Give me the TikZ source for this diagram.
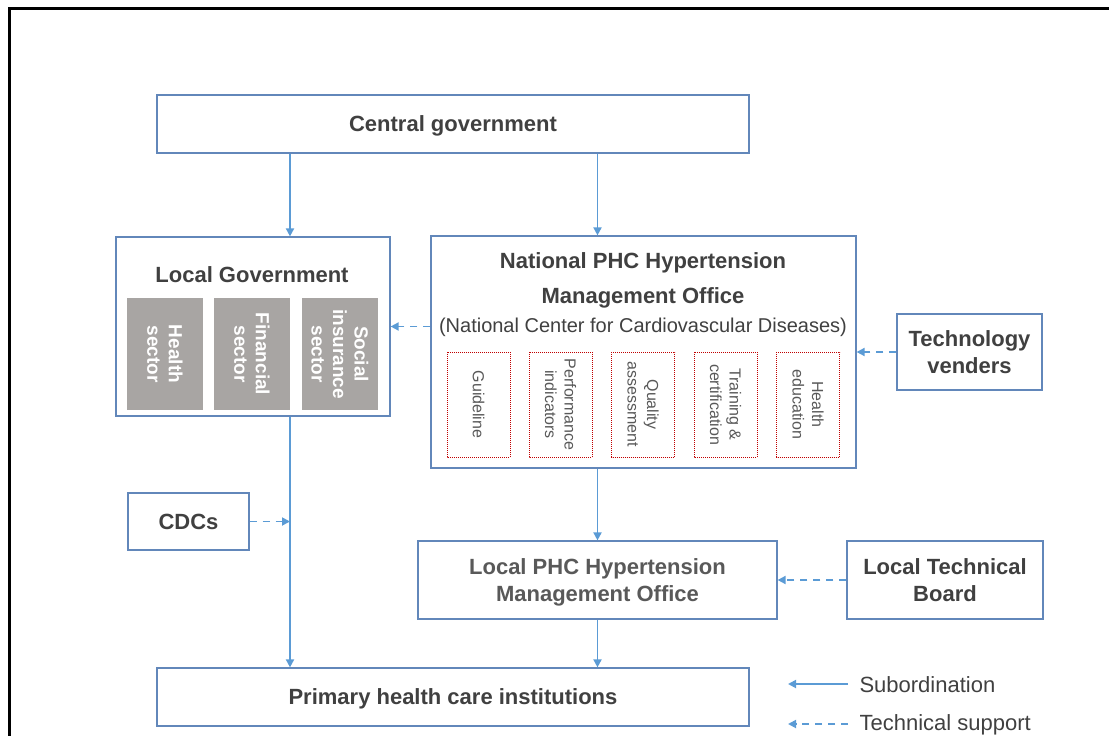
\documentclass[tikz,border=0pt]{standalone}
\usepackage{fontspec}
\setmainfont{Liberation Sans}
\usetikzlibrary{positioning, arrows.meta}

\definecolor{boxblue}{HTML}{6287BA}
\definecolor{arrowblue}{HTML}{5B9BD5}
\definecolor{titlegray}{HTML}{404040}
\definecolor{softgray}{HTML}{595959}
\definecolor{sectorgray}{HTML}{A8A5A3}
\definecolor{dotred}{HTML}{C00000}

\begin{document}
\begin{tikzpicture}[
    x=1pt, y=-1pt,
    box/.style={rectangle, draw=boxblue, line width=1.2pt, fill=white, align=center,
                text=titlegray, font=\fontsize{22}{27}\selectfont\bfseries, inner sep=0pt,
                text depth=0pt},
    sector/.style={rectangle, fill=sectorgray, text=white, align=center, rotate=-90,
                   font=\fontsize{19}{21.5}\selectfont\bfseries, minimum width=112pt,
                   minimum height=76pt, inner sep=0pt},
    task/.style={rectangle, draw=dotred, densely dotted, line width=1pt, text=softgray,
                 align=center, rotate=-90, font=\fontsize{16}{19.5}\selectfont,
                 minimum width=105pt, minimum height=63pt, inner sep=0pt},
    sub/.style={draw=arrowblue, line width=1.8pt, -{Triangle[length=8pt, width=8pt]}},
    support/.style={sub, dash pattern=on 7pt off 6pt},
    legend/.style={anchor=west, text=titlegray, font=\fontsize{22}{26}\selectfont}
]
    \useasboundingbox (0,0) rectangle (1109,736);

    % Frame
    \draw[line width=3pt] (9,745) -- (9,8.5) -- (1120,8.5);

    % Central government
    \node[box, minimum width=592pt, minimum height=58pt] (central) at (453,124) {Central government};

    % Local government and its sectors
    \node[box, minimum width=274pt, minimum height=179pt] (localgov) at (253,326.5) {};
    \node[text=titlegray, font=\fontsize{22}{27}\selectfont\bfseries] (lgtitle) at (252,275) {Local Government};
    \node[sector] (health) at (165,354) {Health\\sector};
    \node[sector] (finance) at (252,354) {Financial\\sector};
    \node[sector] (insurance) at (340,354) {Social\\insurance\\sector};

    % National office
    \node[box, minimum width=425pt, minimum height=232pt] (national) at (643.5,352) {};
    \node[text=titlegray, align=center, font=\fontsize{22}{35}\selectfont\bfseries] (ntitle) at (643,280.5)
        {National PHC Hypertension\\Management Office};
    \node[text=titlegray, font=\fontsize{20}{24}\selectfont] (nsubtitle) at (643,327.5)
        {(National Center for Cardiovascular Diseases)};
    \node[task] (guide) at (478.5,404.5) {Guideline};
    \node[task] (perf) at (560.5,404.5) {Performance\\indicators};
    \node[task] (quality) at (643,404.5) {Quality\\assessment};
    \node[task] (training) at (725.5,404.5) {Training \&\\certification};
    \node[task] (edu) at (808,404.5) {Health\\education};

    % Technology venders
    \node[box, minimum width=145pt, minimum height=76pt] (venders) at (969.5,352) {Technology\\venders};

    % CDCs
    \node[box, minimum width=121pt, minimum height=57pt] (cdcs) at (188.5,521.5) {CDCs};

    % Local office and board
    \node[box, text=softgray, minimum width=359pt, minimum height=78pt] (localphc) at (597.5,580)
        {Local PHC Hypertension\\Management Office};
    \node[box, minimum width=196pt, minimum height=78pt] (board) at (945,580) {Local Technical\\Board};

    % Primary care
    \node[box, minimum width=592pt, minimum height=58pt] (primary) at (453,697) {Primary health care institutions};

    % Subordination arrows
    \coordinate (lgx) at (290,0);
    \draw[sub] (central.south -| lgx) -- (localgov.north -| lgx);
    \draw[sub] (central.south -| localphc) -- (national.north -| localphc);
    \draw[sub] (localgov.south -| lgx) -- (primary.north -| lgx);
    \draw[sub] (national.south -| localphc) -- (localphc.north);
    \draw[sub] (localphc.south) -- (primary.north -| localphc);

    % Technical support arrows
    \draw[support] (national.west |- localgov) -- (localgov.east);
    \draw[support] (venders.west) -- (venders.west -| national.east);
    \draw[support] (cdcs.east) -- (cdcs.east -| lgx);
    \draw[support] (board.west) -- (localphc.east);

    % Legend
    \coordinate (leg1) at (848,684);
    \coordinate (leg2) at (848,724);
    \draw[sub] (leg1) -- ++(-60,0);
    \draw[support] (leg2) -- ++(-60,0);
    \node[legend] (legsub) at (856,685) {Subordination};
    \node[legend] (legsup) at (856,725) {Technical support};

\end{tikzpicture}
\end{document}
